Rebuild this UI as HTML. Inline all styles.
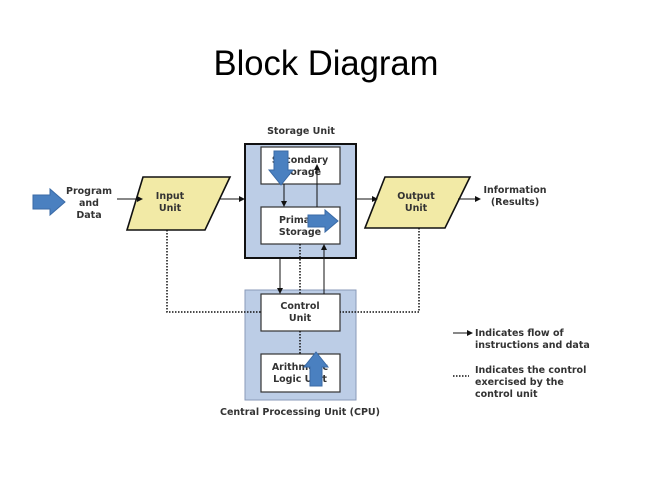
<!DOCTYPE html>
<html><head><meta charset="utf-8"><style>
body{margin:0;background:#fff}
svg text{font-family:"DejaVu Sans","Liberation Sans",sans-serif;font-weight:bold;fill:#333}
</style></head><body>
<svg width="652" height="489" viewBox="0 0 652 489" xmlns="http://www.w3.org/2000/svg">
<defs>
<marker id="ah" markerWidth="6" markerHeight="6" refX="5" refY="3" orient="auto" markerUnits="userSpaceOnUse"><path d="M0,0 L6,3 L0,6 z" fill="#111"/></marker>
</defs>
<text x="326" y="75" text-anchor="middle" textLength="225" lengthAdjust="spacingAndGlyphs" style="font-family:'Liberation Sans',sans-serif;font-weight:normal;font-size:35px;fill:#000">Block Diagram</text>

<!-- storage unit -->
<text x="301" y="134" text-anchor="middle" font-size="9.5">Storage Unit</text>
<rect x="245" y="144" width="111" height="114" fill="#bccde6" stroke="#111" stroke-width="2"/>
<rect x="261" y="147" width="79" height="37" fill="#fff" stroke="#333" stroke-width="1.2"/>
<rect x="261" y="207" width="79" height="37" fill="#fff" stroke="#333" stroke-width="1.2"/>
<text x="300" y="163" text-anchor="middle" font-size="9.5">Secondary</text>
<text x="300" y="175" text-anchor="middle" font-size="9.5">Storage</text>
<text x="300" y="223" text-anchor="middle" font-size="9.5">Primary</text>
<text x="300" y="235" text-anchor="middle" font-size="9.5">Storage</text>
<line x1="284" y1="184" x2="284" y2="206" stroke="#111" marker-end="url(#ah)"/>
<line x1="317" y1="207" x2="317" y2="165" stroke="#111" marker-end="url(#ah)"/>

<!-- CPU -->
<rect x="245" y="290" width="111" height="110" fill="#bccde6" stroke="#8a9ab8" stroke-width="1"/>
<rect x="261" y="294" width="79" height="37" fill="#fff" stroke="#333" stroke-width="1.2"/>
<rect x="261" y="354" width="79" height="38" fill="#fff" stroke="#333" stroke-width="1.2"/>
<text x="300" y="309" text-anchor="middle" font-size="9.5">Control</text>
<text x="300" y="321" text-anchor="middle" font-size="9.5">Unit</text>
<text x="300" y="370" text-anchor="middle" font-size="9.5">Arithmetic</text>
<text x="300" y="382" text-anchor="middle" font-size="9.5">Logic Unit</text>
<text x="300" y="415" text-anchor="middle" font-size="9.5">Central Processing Unit (CPU)</text>
<line x1="300" y1="331" x2="300" y2="354" stroke="#111" stroke-width="1.5" stroke-dasharray="1.5,1.5"/>

<!-- storage-cpu links -->
<line x1="280" y1="258" x2="280" y2="293" stroke="#111" marker-end="url(#ah)"/>
<line x1="300" y1="244" x2="300" y2="294" stroke="#111" stroke-width="1.5" stroke-dasharray="1.5,1.5"/>
<line x1="324" y1="294" x2="324" y2="245" stroke="#111" marker-end="url(#ah)"/>

<!-- input -->
<polygon points="143,177 230,177 205,230 127,230" fill="#f2eaa6" stroke="#111" stroke-width="1.6"/>
<text x="170" y="199" text-anchor="middle" font-size="9.5">Input</text>
<text x="170" y="211" text-anchor="middle" font-size="9.5">Unit</text>
<polygon points="33,195 50,195 50,189 65,202 50,215 50,209 33,209" fill="#4a80c0" stroke="#3a6aa6"/>
<text x="89" y="194" text-anchor="middle" font-size="9.5">Program</text>
<text x="89" y="206" text-anchor="middle" font-size="9.5">and</text>
<text x="89" y="218" text-anchor="middle" font-size="9.5">Data</text>
<line x1="117" y1="199" x2="142" y2="199" stroke="#111" marker-end="url(#ah)"/>
<line x1="219" y1="199" x2="244" y2="199" stroke="#111" marker-end="url(#ah)"/>

<!-- output -->
<polygon points="385,177 470,177 445,228 365,228" fill="#f2eaa6" stroke="#111" stroke-width="1.6"/>
<text x="416" y="199" text-anchor="middle" font-size="9.5">Output</text>
<text x="416" y="211" text-anchor="middle" font-size="9.5">Unit</text>
<line x1="356" y1="199" x2="377" y2="199" stroke="#111" marker-end="url(#ah)"/>
<line x1="458" y1="199" x2="480" y2="199" stroke="#111" marker-end="url(#ah)"/>
<text x="515" y="193" text-anchor="middle" font-size="9.5">Information</text>
<text x="515" y="205" text-anchor="middle" font-size="9.5">(Results)</text>

<!-- dotted control lines -->
<polyline points="167,230 167,312 261,312" fill="none" stroke="#111" stroke-width="1.5" stroke-dasharray="1.5,1.5"/>
<polyline points="419,228 419,312 340,312" fill="none" stroke="#111" stroke-width="1.5" stroke-dasharray="1.5,1.5"/>

<!-- blue arrows -->
<polygon points="274,151 288,151 288,170 293,170 281,185 269,170 274,170" fill="#4a80c0" stroke="#3a6aa6"/>
<polygon points="308,215 325,215 325,210 338,221 325,232 325,227 308,227" fill="#4a80c0" stroke="#3a6aa6"/>
<polygon points="310,386 322,386 322,367 328,367 316,352 304,367 310,367" fill="#4a80c0" stroke="#3a6aa6"/>

<!-- legend -->
<line x1="453" y1="333" x2="472" y2="333" stroke="#111" marker-end="url(#ah)"/>
<text x="475" y="336" font-size="9.5">Indicates flow of</text>
<text x="475" y="348" font-size="9.5">instructions and data</text>
<line x1="453" y1="376" x2="469" y2="376" stroke="#111" stroke-width="1.5" stroke-dasharray="1.5,1.5"/>
<text x="475" y="373" font-size="9.5">Indicates the control</text>
<text x="475" y="385" font-size="9.5">exercised by the</text>
<text x="475" y="397" font-size="9.5">control unit</text>
</svg>
</body></html>
